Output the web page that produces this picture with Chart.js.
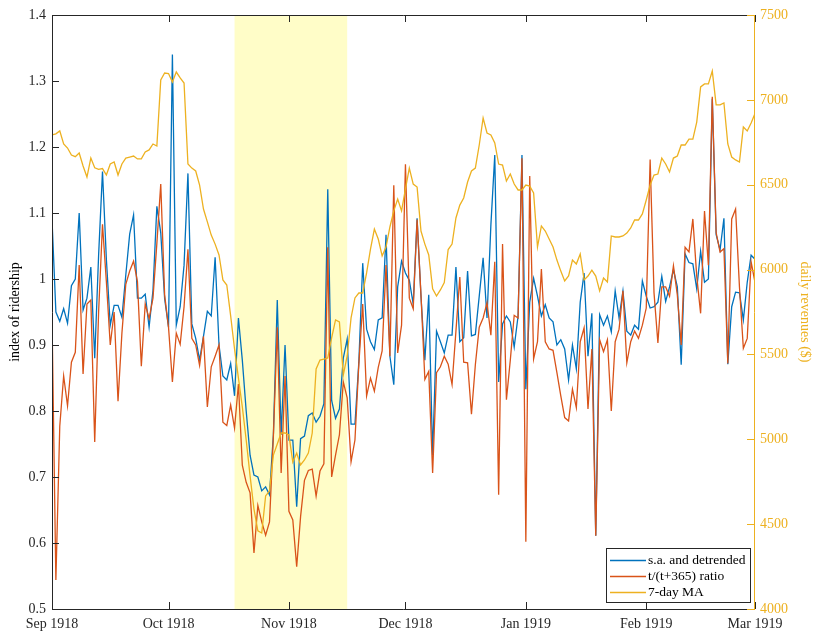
<!DOCTYPE html>
<html>
<head>
<meta charset="utf-8">
<title>Ridership 1918-1919</title>
<script src="https://cdn.jsdelivr.net/npm/chart.js@4.4.1/dist/chart.umd.min.js"></script>
<style>
  html, body { margin: 0; padding: 0; background: #fff; }
  #wrap { width: 816px; height: 633px; }
</style>
</head>
<body>
<div id="wrap"><canvas id="ridership" width="816" height="633"></canvas></div>
<script>
// days since 1 Sep 1918 where each month starts
const monthTicks = [0, 30, 61, 91, 122, 153, 181];
const monthLabels = ['Sep 1918', 'Oct 1918', 'Nov 1918', 'Dec 1918', 'Jan 1919', 'Feb 1919', 'Mar 1919'];

// shaded period (day index)
const shadeFrom = 47;
const shadeTo = 76;

// index of ridership, s.a. and detrended
const saDetrended = [
  1.09, 0.95, 0.936, 0.955, 0.933, 0.99, 1.0, 1.10, 0.953, 0.971,
  1.018, 0.88, 1.036, 1.163, 1.03, 0.93, 0.96, 0.96, 0.942, 1.006,
  1.068, 1.097, 0.971, 0.971, 0.977, 0.927, 0.983, 1.11, 1.07, 0.97,
  0.927, 1.34, 0.93, 0.958, 1.021, 1.16, 0.932, 0.91, 0.877, 0.913,
  0.951, 0.944, 1.033, 0.90, 0.853, 0.847, 0.872, 0.823, 0.941, 0.877,
  0.80, 0.733, 0.703, 0.70, 0.679, 0.685, 0.673, 0.764, 0.968, 0.764,
  0.90, 0.756, 0.756, 0.655, 0.758, 0.762, 0.793, 0.797, 0.783, 0.792,
  0.811, 1.136, 0.816, 0.789, 0.803, 0.88, 0.909, 0.78, 0.78, 0.874,
  1.024, 0.924, 0.905, 0.893, 0.938, 0.941, 1.067, 0.883, 0.84, 0.988,
  1.027, 1.009, 0.998, 0.962, 1.092, 0.974, 0.877, 0.976, 0.733, 0.921,
  0.905, 0.888, 0.915, 0.915, 1.018, 0.905, 0.911, 1.012, 0.914, 0.916,
  0.974, 1.032, 0.941, 1.082, 1.188, 0.844, 0.932, 0.944, 0.935, 0.897,
  0.944, 1.188, 0.833, 0.965, 1.001, 0.974, 0.944, 0.961, 0.941, 0.935,
  0.90, 0.908, 0.894, 0.847, 0.90, 0.864, 0.965, 1.009, 0.883, 0.948,
  0.611, 0.946, 0.93, 0.944, 0.92, 0.982, 0.941, 0.982, 0.921, 0.915,
  0.93, 0.924, 0.997, 0.974, 0.956, 0.958, 0.965, 1.004, 0.966, 0.988,
  1.014, 0.988, 0.87, 1.038, 1.025, 1.023, 0.985, 1.042, 0.995, 1.0,
  1.273, 1.067, 1.044, 1.092, 0.871, 0.958, 0.98, 0.979, 0.938, 0.995,
  1.036, 1.03
];

// t/(t+365) ratio
const ratio365 = [
  0.942, 0.544, 0.777, 0.853, 0.808, 0.874, 0.889, 1.021, 0.856, 0.962,
  0.968, 0.753, 0.95, 1.083, 0.996, 0.90, 0.95, 0.815, 0.918, 0.992,
  1.012, 1.027, 0.996, 0.868, 0.962, 0.94, 0.971, 1.054, 1.144, 0.976,
  0.927, 0.844, 0.918, 0.901, 0.958, 1.045, 0.91, 0.90, 0.869, 0.913,
  0.806, 0.867, 0.883, 0.90, 0.783, 0.778, 0.809, 0.774, 0.841, 0.718,
  0.692, 0.676, 0.585, 0.657, 0.632, 0.612, 0.632, 0.762, 0.927, 0.706,
  0.853, 0.648, 0.635, 0.564, 0.64, 0.695, 0.71, 0.712, 0.671, 0.709,
  0.72, 1.048, 0.70, 0.733, 0.764, 0.844, 0.82, 0.723, 0.756, 0.871,
  0.962, 0.823, 0.85, 0.83, 0.866, 0.891, 1.021, 0.883, 1.142, 0.888,
  0.93, 1.174, 0.971, 0.955, 1.09, 0.976, 0.848, 0.86, 0.706, 0.858,
  0.867, 0.883, 0.871, 0.84, 0.921, 1.003, 0.874, 0.873, 0.795, 0.87,
  0.927, 0.941, 0.964, 0.915, 1.026, 0.673, 1.053, 0.817, 0.877, 0.945,
  0.941, 1.183, 0.602, 1.156, 0.879, 0.905, 1.015, 0.905, 0.894, 0.892,
  0.858, 0.823, 0.79, 0.785, 0.833, 0.805, 0.905, 0.926, 0.803, 0.894,
  0.611, 0.908, 0.89, 0.908, 0.80, 0.905, 0.924, 0.982, 0.873, 0.905,
  0.921, 0.91, 0.93, 0.956, 1.181, 0.979, 0.903, 0.988, 0.988, 0.974,
  1.02, 0.976, 0.90, 1.048, 1.041, 1.091, 1.004, 0.948, 1.103, 1.021,
  1.276, 1.07, 1.041, 1.046, 0.872, 1.091, 1.106, 0.988, 0.895, 0.91,
  1.026, 0.995
];

// daily revenues, 7-day moving average ($)
const revenueMA = [
  6793, 6800, 6817, 6740, 6716, 6675, 6665, 6687, 6610, 6545,
  6657, 6600, 6590, 6595, 6557, 6622, 6634, 6557, 6622, 6657,
  6663, 6669, 6652, 6652, 6693, 6705, 6740, 6728, 7117, 7158,
  7155, 7105, 7164, 7129, 7099, 6622, 6598, 6581, 6498, 6357,
  6281, 6203, 6150, 6086, 5939, 5909, 5727, 5532, 5361, 5191,
  4996, 4784, 4589, 4460, 4448, 4666, 4696, 4907, 4972, 5037,
  5037, 5025, 4866, 4919, 4849, 4878, 4919, 5037, 5414, 5467,
  5473, 5479, 5597, 5703, 5691, 5379, 5491, 5715, 5833, 5862,
  5862, 5980, 6121, 6239, 6180, 6080, 6133, 6251, 6346, 6416,
  6346, 6475, 6598, 6504, 6486, 6227, 6150, 6086, 5886, 5844,
  5880, 5924, 6118, 6150, 6304, 6380, 6422, 6516, 6581, 6598,
  6734, 6893, 6805, 6793, 6746, 6622, 6616, 6522, 6563, 6504,
  6469, 6469, 6498, 6492, 6451, 6133, 6257, 6227, 6180, 6133,
  6056, 5991, 5933, 5962, 6056, 6033, 6092, 5939, 5962, 5997,
  5962, 5874, 5950, 5927, 6198, 6192, 6192, 6198, 6215, 6245,
  6292, 6292, 6328, 6410, 6498, 6557, 6563, 6657, 6622, 6575,
  6657, 6669, 6734, 6734, 6769, 6769, 6869, 7076, 7094, 7094,
  7170, 6970, 6970, 6982, 6740, 6663, 6646, 6634, 6840, 6817,
  6864, 6920
];

const BLUE = '#0072BD';
const ORANGE = '#D95319';
const YELLOW = '#EDB120';
const AXIS = '#262626';
const FONT = "'Liberation Serif', 'DejaVu Serif', serif";

function toPoints(arr) {
  return arr.map((v, i) => ({ x: i, y: v }));
}

// yellow band behind the lines
const shadePlugin = {
  id: 'shade',
  beforeDatasetsDraw(chart) {
    const { ctx, chartArea, scales } = chart;
    const x0 = scales.x.getPixelForValue(shadeFrom);
    const x1 = scales.x.getPixelForValue(shadeTo);
    ctx.save();
    ctx.fillStyle = '#FFFDC8';
    ctx.fillRect(x0, chartArea.top, x1 - x0, chartArea.bottom - chartArea.top);
    ctx.restore();
  }
};

// matlab style box with inward ticks
const framePlugin = {
  id: 'frame',
  afterDatasetsDraw(chart) {
    const { ctx, chartArea: a, scales } = chart;
    ctx.save();
    ctx.lineWidth = 1;

    ctx.strokeStyle = AXIS;
    ctx.beginPath();
    ctx.moveTo(a.left + 0.5, a.top + 0.5);
    ctx.lineTo(a.right, a.top + 0.5);
    ctx.moveTo(a.left + 0.5, a.top);
    ctx.lineTo(a.left + 0.5, a.bottom + 0.5);
    ctx.lineTo(a.right, a.bottom + 0.5);
    scales.x.ticks.forEach(t => {
      const px = Math.round(scales.x.getPixelForValue(t.value)) + 0.5;
      ctx.moveTo(px, a.bottom);
      ctx.lineTo(px, a.bottom - 7);
      ctx.moveTo(px, a.top);
      ctx.lineTo(px, a.top + 7);
    });
    scales.y.ticks.forEach(t => {
      const py = Math.round(scales.y.getPixelForValue(t.value)) + 0.5;
      ctx.moveTo(a.left, py);
      ctx.lineTo(a.left + 7, py);
    });
    ctx.stroke();

    ctx.strokeStyle = YELLOW;
    ctx.beginPath();
    ctx.moveTo(a.right - 0.5, a.top);
    ctx.lineTo(a.right - 0.5, a.bottom + 1);
    scales.y2.ticks.forEach(t => {
      const py = Math.round(scales.y2.getPixelForValue(t.value)) + 0.5;
      ctx.moveTo(a.right, py);
      ctx.lineTo(a.right - 8, py);
    });
    ctx.stroke();
    ctx.restore();
  }
};

// legend box in the lower right corner
const legendPlugin = {
  id: 'boxLegend',
  afterDraw(chart) {
    const ctx = chart.ctx;
    const items = chart.data.datasets;
    const bx = 606, by = 548, bw = 144, bh = 54;
    ctx.save();
    ctx.fillStyle = '#fff';
    ctx.fillRect(bx, by, bw, bh);
    ctx.strokeStyle = AXIS;
    ctx.lineWidth = 1;
    ctx.strokeRect(bx + 0.5, by + 0.5, bw, bh);
    ctx.font = '13.5px ' + FONT;
    ctx.textBaseline = 'middle';
    items.forEach((ds, i) => {
      const y = by + 12 + i * 16;
      ctx.strokeStyle = ds.borderColor;
      ctx.lineWidth = 1.3;
      ctx.beginPath();
      ctx.moveTo(bx + 4, y + 0.5);
      ctx.lineTo(bx + 40, y + 0.5);
      ctx.stroke();
      ctx.fillStyle = '#000';
      ctx.fillText(ds.label, bx + 42, y);
    });
    ctx.restore();
  }
};

function initGraphics() {
  const ctx = document.getElementById('ridership').getContext('2d');

  new Chart(ctx, {
    type: 'line',
    data: {
      datasets: [{
        label: 's.a. and detrended',
        data: toPoints(saDetrended),
        borderColor: BLUE,
        borderWidth: 1.3,
        pointRadius: 0,
        tension: 0,
        yAxisID: 'y',
        order: 3
      }, {
        label: 't/(t+365) ratio',
        data: toPoints(ratio365),
        borderColor: ORANGE,
        borderWidth: 1.3,
        pointRadius: 0,
        tension: 0,
        yAxisID: 'y',
        order: 2
      }, {
        label: '7-day MA',
        data: toPoints(revenueMA),
        borderColor: YELLOW,
        borderWidth: 1.3,
        pointRadius: 0,
        tension: 0,
        yAxisID: 'y2',
        order: 1
      }]
    },
    options: {
      responsive: false,
      animation: false,
      devicePixelRatio: 1,
      layout: { padding: { top: 15, left: 0, right: 0, bottom: 0 } },
      plugins: {
        legend: { display: false },
        tooltip: { enabled: false }
      },
      scales: {
        x: {
          type: 'linear',
          min: 0,
          max: 181,
          afterBuildTicks: scale => {
            scale.ticks = monthTicks.map(v => ({ value: v }));
          },
          afterFit: scale => { scale.height = 24; },
          grid: { display: false, drawTicks: false },
          border: { display: false },
          ticks: {
            autoSkip: false,
            maxRotation: 0,
            padding: 7,
            color: AXIS,
            font: { family: FONT, size: 14 },
            callback: v => monthLabels[monthTicks.indexOf(v)]
          }
        },
        y: {
          position: 'left',
          min: 0.5,
          max: 1.4,
          afterFit: scale => { scale.width = 52; },
          grid: { display: false, drawTicks: false },
          border: { display: false },
          ticks: {
            stepSize: 0.1,
            padding: 6,
            color: AXIS,
            font: { family: FONT, size: 14 },
            callback: v => String(+v.toFixed(1))
          },
          title: {
            display: true,
            text: 'index of ridership',
            color: '#000',
            padding: { top: 7, bottom: 0 },
            font: { family: FONT, size: 14 }
          }
        },
        y2: {
          position: 'right',
          min: 4000,
          max: 7500,
          afterFit: scale => { scale.width = 61; },
          grid: { display: false, drawTicks: false },
          border: { display: false },
          ticks: {
            stepSize: 500,
            padding: 5,
            color: YELLOW,
            font: { family: FONT, size: 14 },
            callback: v => String(v)
          },
          title: {
            display: true,
            text: 'daily revenues ($)',
            color: YELLOW,
            padding: { top: 3, bottom: 0 },
            font: { family: FONT, size: 14 }
          }
        }
      }
    },
    plugins: [shadePlugin, framePlugin, legendPlugin]
  });
}

initGraphics();
</script>
</body>
</html>
